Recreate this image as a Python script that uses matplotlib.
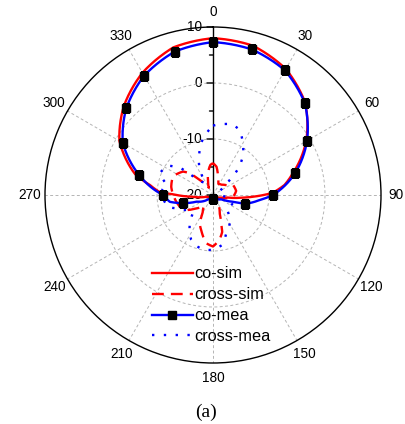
import numpy as np
import matplotlib
matplotlib.use("Agg")
import matplotlib.pyplot as plt

plt.rcParams['font.family'] = ['Liberation Sans', 'DejaVu Sans']

# ---------------- data (angle in degrees, gain in dB) ----------------
co_sim_ang = [0, 15, 30, 45, 60, 75, 82, 88, 92, 95, 100, 109, 120, 150, 180,
              210, 240, 255, 265, 271, 273, 279, 285, 300, 315, 330, 345, 360]
co_sim_val = [8.0, 7.6, 6.0, 3.3, -0.8, -5.3, -7.1, -9.4, -12.5, -14.6, -17.4, -18.6, -19.1, -19.5, -19.55,
              -19.5, -19.3, -18.8, -16.4, -12.9, -10.5, -8.6, -5.6, -0.7, 2.5, 5.2, 7.3, 8.0]

co_mea_ang = [0, 15, 30, 45, 60, 75, 90, 96, 105, 108.5, 117, 135, 150, 180,
              210, 227.5, 247.7, 255, 261, 270, 285, 300, 315, 330, 345, 360]
co_mea_val = [7.3, 6.9, 5.7, 3.2, -0.6, -4.8, -9.3, -11.6, -14.0, -16.2, -18.3, -19.0, -19.2, -19.3,
              -19.1, -18.9, -16.9, -14.4, -12.2, -11.1, -6.4, -1.4, 1.9, 4.6, 6.5, 7.3]
co_mea_marker_ang = [0, 15, 30, 45, 60, 75, 90, 105, 180, 255, 270, 285, 300, 315, 330, 345]

cross_sim_ang = [0, 7, 15, 25, 40, 55, 63, 80, 95, 110, 130, 150, 160, 164, 166, 172, 180,
                 188, 197, 205, 210, 220, 231, 242, 251, 270, 281, 295, 308, 313, 318, 330,
                 340, 347, 355, 360]
cross_sim_val = [-14.3, -14.9, -16.6, -17.8, -17.6, -17.0, -16.0, -15.8, -16.4, -18.5, -19.0, -18.0,
                 -16.5, -14.7, -13.2, -11.9, -10.8, -11.3, -13.1, -14.4, -16.3, -17.5, -16.2, -14.3,
                 -13.7, -12.9, -12.4, -12.1, -13.2, -14.3, -16.4, -18.5, -17.5, -16.0, -14.6, -14.3]

cross_mea_ang = [0, 8, 15, 22, 30, 37, 43, 47, 50, 60, 80, 95, 105, 115, 125, 135, 146, 155,
                 161, 170, 180, 190, 200, 206, 214, 222, 228, 238, 245, 250, 255, 265, 276,
                 283, 292, 303, 310, 313, 319, 327, 334, 342, 347, 354, 360]
cross_mea_val = [-7.6, -7.2, -6.9, -7.4, -9.3, -11.1, -13.1, -15.2, -17.2, -18.8, -19.0, -18.2,
                 -17.0, -16.2, -16.4, -16.6, -14.6, -13.4, -12.75, -10.9, -10.2, -10.1, -10.5,
                 -11.1, -12.5, -14.0, -15.2, -15.0, -13.8, -13.05, -11.7, -11.1, -10.9, -11.5,
                 -9.7, -10.35, -12.6, -15.2, -16.85, -17.5, -14.4, -12.1, -10.5, -8.9, -7.6]

angle_ticks = list(range(0, 360, 30))
angle_labels = [str(a) for a in angle_ticks]
r_major = [-20, -10, 0, 10]
r_minor = [-15, -5, 5]
r_labels = ['-20', '-10', '0', '10']
legend_labels = ['co-sim', 'cross-sim', 'co-mea', 'cross-mea']

# ---------------- figure ----------------
W, H = 405, 424
fig = plt.figure(figsize=(W / 100, H / 100), dpi=100)
cx, cy, R = 213, 195, 168
ax = fig.add_axes([(cx - R) / W, (H - cy - R) / H, 2 * R / W, 2 * R / H], projection='polar')
ax.set_theta_zero_location('N')
ax.set_theta_direction(-1)
ax.set_ylim(-20, 10)

ax.set_yticks([-10, 0])
ax.set_yticklabels([])
ax.set_xticks(np.deg2rad(angle_ticks))
ax.set_xticklabels(angle_labels, fontsize=9.8)
ax.tick_params(axis='x', pad=4, direction='in', length=5, width=1, color='k')
ax.grid(True, color='#b4b4b4', linestyle=(0, (3, 2.5)), linewidth=0.7)
ax.spines['polar'].set_linewidth(1.0)
ax.spines['polar'].set_color('k')

# radial axis line, ticks and labels
ax.plot([0, 0], [-20, 10], color='k', lw=1.0, zorder=2, clip_on=False)
for v, lab in zip(r_major, r_labels):
    ax.annotate('', xy=(0, v), xytext=(-6, 0), textcoords='offset pixels',
                arrowprops=dict(arrowstyle='-', color='k', lw=1, shrinkA=0, shrinkB=0), zorder=2)
    ax.annotate(lab, xy=(0, v), xytext=(-11, 0), textcoords='offset pixels',
                ha='right', va='center', fontsize=9.8, zorder=1)
for v in r_minor:
    ax.annotate('', xy=(0, v), xytext=(-3.5, 0), textcoords='offset pixels',
                arrowprops=dict(arrowstyle='-', color='k', lw=1, shrinkA=0, shrinkB=0), zorder=2)

# curves
l1, = ax.plot(np.deg2rad(co_sim_ang), co_sim_val, color='#ff0000', lw=1.7, zorder=4)
l2, = ax.plot(np.deg2rad(cross_sim_ang), cross_sim_val, color='#ff0000', lw=1.7,
              linestyle=(0, (5, 3)), zorder=4)
mk_idx = [co_mea_ang.index(a) for a in co_mea_marker_ang]
l3, = ax.plot(np.deg2rad(co_mea_ang), co_mea_val, color='#0000ff', lw=1.7, marker='s',
              markersize=5.2, markerfacecolor='k', markeredgecolor='k', markevery=mk_idx, zorder=5)
l4, = ax.plot(np.deg2rad(cross_mea_ang), cross_mea_val, color='#0000ff', lw=1.7,
              linestyle=(0, (1, 4)), zorder=4)
# let the polar transform draw smooth arcs between the read points
for ln in (l1, l2, l3, l4):
    ln.get_path()._interpolation_steps = 40

leg = ax.legend([l1, l2, l3, l4], legend_labels, loc='upper left',
                bbox_to_anchor=(152 / W, 1 - 266.5 / H), bbox_transform=fig.transFigure,
                frameon=False, fontsize=11.7, handlelength=2.5, handletextpad=0.12,
                labelspacing=0.36, borderpad=0, borderaxespad=0)

fig.text(205.5 / W, 1 - 412 / H, '(a)', ha='center', va='center',
         family=['Liberation Serif', 'DejaVu Serif'], fontsize=14)

fig.savefig('out.png', dpi=100)
